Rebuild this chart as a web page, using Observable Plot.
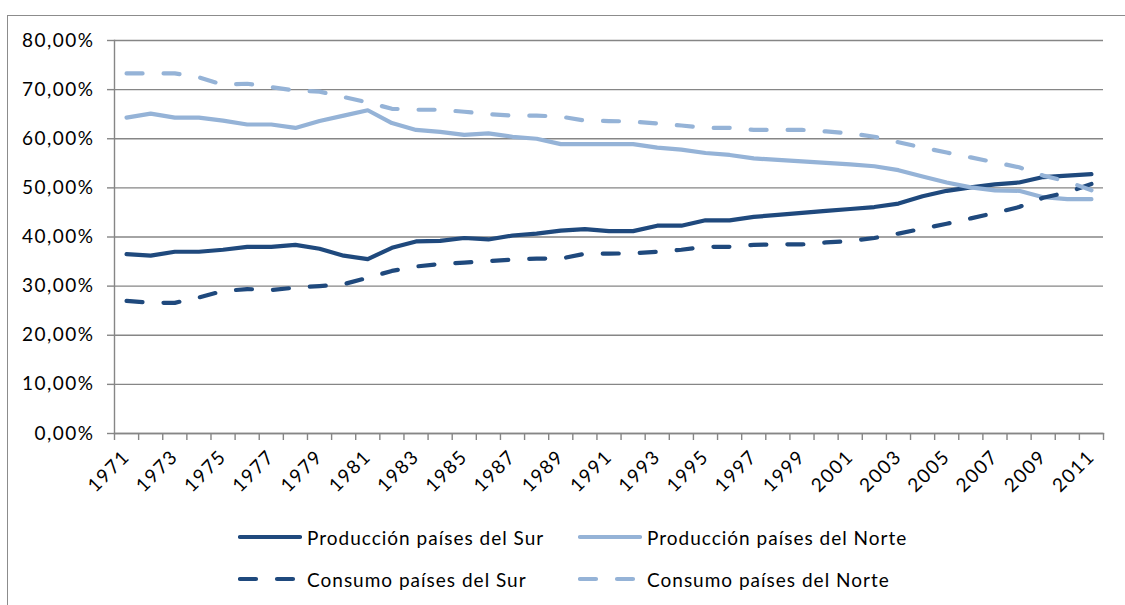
<!DOCTYPE html>
<html><head><meta charset="utf-8">
<script src="https://cdn.jsdelivr.net/npm/d3@7"></script>
<script src="https://cdn.jsdelivr.net/npm/@observablehq/plot@0.6"></script>
<style>
body{margin:0;background:#fff;font-family:Lato, "Open Sans", sans-serif;}
#wrap{position:relative;width:1125px;height:605px;overflow:hidden;background:#fff;}
#frame{position:absolute;left:7px;top:15px;width:1140px;height:620px;border:1px solid #8c8c8c;box-sizing:border-box;}
#chart{position:absolute;left:0;top:0;}
#chart svg text{letter-spacing:1.5px;}
.leg{position:absolute;display:flex;align-items:center;font-size:19px;letter-spacing:1px;color:#000;white-space:nowrap;}
.leg svg{margin-right:5px;}
</style></head><body>
<div id="wrap"><div id="frame"></div><div id="chart"></div><div id="legend"></div></div>
<script>
const years = [1971,1972,1973,1974,1975,1976,1977,1978,1979,1980,1981,1982,1983,1984,1985,1986,1987,1988,1989,1990,1991,1992,1993,1994,1995,1996,1997,1998,1999,2000,2001,2002,2003,2004,2005,2006,2007,2008,2009,2010,2011];
const labelYears = [1971,1973,1975,1977,1979,1981,1983,1985,1987,1989,1991,1993,1995,1997,1999,2001,2003,2005,2007,2009,2011];
const yTicks = [0,10,20,30,40,50,60,70,80];

const prodSur   = [36.5,36.2,37.0,37.0,37.4,38.0,38.0,38.4,37.6,36.2,35.5,37.8,39.1,39.2,39.8,39.5,40.3,40.7,41.3,41.6,41.2,41.2,42.3,42.3,43.4,43.4,44.1,44.5,44.9,45.3,45.7,46.1,46.8,48.3,49.4,50.1,50.7,51.1,52.2,52.5,52.8];
const prodNorte = [64.3,65.1,64.3,64.3,63.7,62.9,62.9,62.2,63.6,64.7,65.8,63.2,61.8,61.4,60.8,61.1,60.4,60.0,58.9,58.9,58.9,58.9,58.2,57.8,57.1,56.7,56.0,55.7,55.4,55.1,54.8,54.4,53.6,52.3,51.1,50.1,49.5,49.4,48.1,47.7,47.7];
const consSur   = [27.0,26.6,26.6,27.7,29.0,29.4,29.2,29.7,30.0,30.4,31.7,33.1,34.0,34.5,34.8,35.1,35.4,35.6,35.6,36.6,36.6,36.7,37.0,37.4,38.0,38.0,38.4,38.5,38.5,38.9,39.2,39.8,40.7,41.7,42.7,43.8,44.9,46.1,48.0,49.1,50.8];
const consNorte = [73.3,73.3,73.3,72.5,71.0,71.2,70.5,69.8,69.6,68.5,67.4,66.1,65.9,65.9,65.5,65.0,64.7,64.7,64.5,63.7,63.6,63.5,63.1,62.7,62.2,62.2,61.8,61.8,61.8,61.5,61.1,60.4,59.3,58.2,57.2,56.2,55.2,54.2,52.5,51.3,49.5];

const seriesNames = ["Producción países del Sur","Producción países del Norte","Consumo países del Sur","Consumo países del Norte"];
const seriesValues = [prodSur, prodNorte, consSur, consNorte];
const seriesColors = ["#1F497D","#95B3D7","#1F497D","#95B3D7"];
const seriesDash = [null, null, "16,21", "16,21"];

const bounds = [years[0]-0.5, ...years.map(y => y + 0.5)];
const axisColor = "#868686";
const fmt = d => d.toFixed(2).replace(".", ",") + "%";

const lineMarks = seriesValues.map((vals, k) =>
  Plot.line(years.map((y, i) => ({year: y, value: vals[i]})), {
    x: "year", y: "value",
    stroke: seriesColors[k], strokeWidth: 4.2,
    strokeDasharray: seriesDash[k] || undefined,
    strokeLinecap: "round", strokeLinejoin: "round"
  })
);

const chart = Plot.plot({
  width: 1125, height: 505,
  marginLeft: 114, marginRight: 22, marginTop: 40, marginBottom: 72,
  style: {fontFamily: "Lato, 'Open Sans', sans-serif", fontSize: "19px", color: "#000", background: "transparent", overflow: "visible"},
  x: {domain: [bounds[0], bounds[bounds.length-1]]},
  y: {domain: [0, 80]},
  marks: [
    Plot.gridY({ticks: yTicks, stroke: axisColor, strokeOpacity: 1, strokeWidth: 1.4}),
    Plot.axisY({ticks: yTicks, tickFormat: fmt, tickSize: 7, tickPadding: 13, stroke: axisColor, strokeWidth: 1.4, fill: "#000", label: null}),
    Plot.axisX({ticks: bounds, tickSize: 7, tickFormat: () => "", stroke: axisColor, strokeWidth: 1.4, label: null}),
    Plot.axisX({ticks: labelYears, tickSize: 0, tickPadding: 20, tickRotate: -45, tickFormat: d => String(d), fill: "#000", label: null}),
    Plot.frame({anchor: "left", stroke: axisColor, strokeWidth: 1.4}),
    Plot.frame({anchor: "bottom", stroke: axisColor, strokeWidth: 1.4}),
    ...lineMarks
  ]
});
document.getElementById("chart").appendChild(chart);

// legend
const legendPos = [[238, 537], [578, 537], [238, 579], [578, 579]];
const legend = document.getElementById("legend");
seriesNames.forEach((name, k) => {
  const div = document.createElement("div");
  div.className = "leg";
  div.style.left = legendPos[k][0] + "px";
  div.style.top = (legendPos[k][1] - 12) + "px";
  div.style.height = "24px";
  const dash = seriesDash[k] ? `stroke-dasharray="${seriesDash[k]}"` : "";
  div.innerHTML = `<svg width="64" height="10"><line x1="2" y1="5" x2="62" y2="5" stroke="${seriesColors[k]}" stroke-width="4.2" stroke-linecap="round" ${dash}/></svg><span>${name}</span>`;
  legend.appendChild(div);
});
</script>
</body></html>
